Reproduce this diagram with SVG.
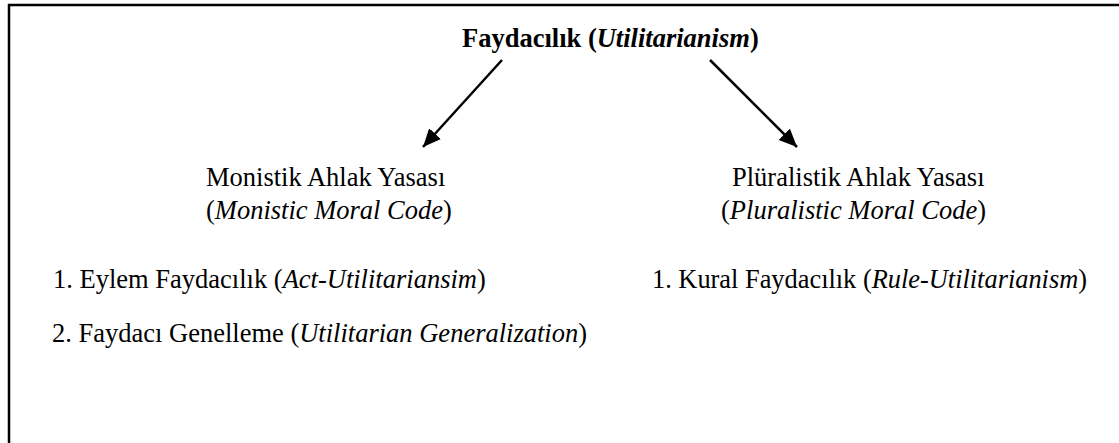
<svg xmlns="http://www.w3.org/2000/svg" width="1119" height="443" viewBox="0 0 1119 443">
<defs>
<style>
text{font-family:'Liberation Serif','Times New Roman',Times,serif;font-size:26.5px;fill:#000}
.b{font-weight:bold}
.i{font-style:italic}
.c{stroke:#000;stroke-width:2.5;fill:none}
</style>
<marker id="ah" markerUnits="userSpaceOnUse" markerWidth="20" markerHeight="18" refX="18" refY="8" orient="auto">
<path d="M0,0 L18,8 L0,16 z" fill="#000"/>
</marker>
</defs>
<rect x="0" y="0" width="1119" height="443" fill="#fff"/>
<rect x="9" y="5" width="1300" height="600" fill="none" stroke="#000" stroke-width="2.5"/>
<g font-family="Liberation Serif, serif">
<g id="root"><text class="b" x="462" y="47">Faydacılık (<tspan class="i">Utilitarianism</tspan>)</text></g>
<g id="monistic">
<text x="206" y="186">Monistik Ahlak Yasası</text>
<text x="206" y="219">(<tspan class="i">Monistic Moral Code</tspan>)</text>
</g>
<g id="pluralistic">
<text x="732" y="186">Plüralistik Ahlak Yasası</text>
<text x="721" y="219">(<tspan class="i">Pluralistic Moral Code</tspan>)</text>
</g>
<g id="act"><text x="53" y="288">1. Eylem Faydacılık (<tspan class="i">Act-Utilitariansim</tspan>)</text></g>
<g id="generalization"><text x="52" y="342">2. Faydacı Genelleme (<tspan class="i">Utilitarian Generalization</tspan>)</text></g>
<g id="rule"><text x="652" y="288" textLength="435" lengthAdjust="spacingAndGlyphs">1. Kural Faydacılık (<tspan class="i">Rule-Utilitarianism</tspan>)</text></g>
</g>
<g id="connectors">
<line class="c" x1="502" y1="60" x2="423" y2="147" marker-end="url(#ah)"/>
<line class="c" x1="710" y1="60" x2="797" y2="147" marker-end="url(#ah)"/>
</g>
</svg>
